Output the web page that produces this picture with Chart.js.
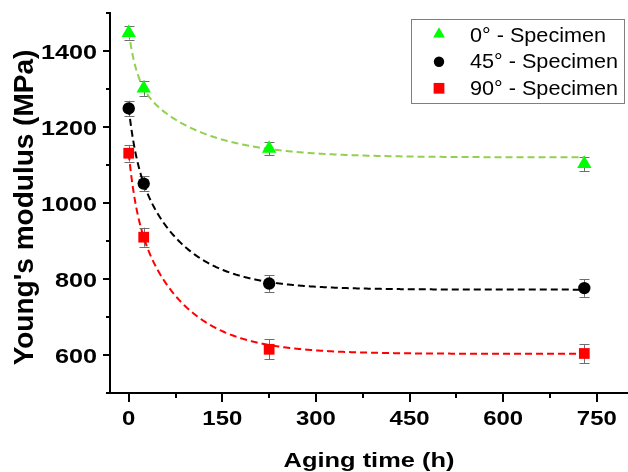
<!DOCTYPE html>
<html>
<head>
<meta charset="utf-8">
<script src="https://cdn.jsdelivr.net/npm/chart.js@4/dist/chart.umd.min.js"></script>
<style>
  html, body { margin: 0; padding: 0; background: #fff; }
  #wrap { width: 628px; height: 472px; }
</style>
</head>
<body>
<div id="wrap"><canvas id="c" width="628" height="472"></canvas></div>
<script>
// Measured Young's modulus (MPa) against aging time (h)
const agingTime = [0, 24, 225, 730];
const modulus0 = [1448, 1302, 1143, 1103];
const modulus45 = [1249, 1051, 788, 776];
const modulus90 = [1131, 910, 615, 604];
// standard deviations
const err0 = [18, 20, 17, 19];
const err45 = [20, 20, 22, 23];
const err90 = [22, 25, 26, 25];
const seriesNames = ['0° - Specimen', '45° - Specimen', '90° - Specimen'];
const xTickLabels = [0, 150, 300, 450, 600, 750];
const xMinorTicks = [75, 225, 375, 525, 675];
const yTickLabels = [600, 800, 1000, 1200, 1400];
const yMinorTicks = [500, 700, 900, 1100, 1300, 1500];
// decay fits: y0 + A1*exp(-t/t1) + A2*exp(-t/t2)  -> [y0, A1, t1, A2, t2]
const fit0 = [1120, 122, 12, 210, 100];
const fit45 = [772, 120, 12, 358, 78];
const fit90 = [603, 139, 12, 389, 80];

const GREEN = '#00ff00', BLACK = '#000000', RED = '#ff0000';
const FIT_GREEN = '#92d050';

const points = (ys) => agingTime.map((t, i) => ({ x: t, y: ys[i] }));
function fitCurve(p) {
  const out = [];
  for (let t = 0; t <= 730; t += 1) {
    out.push({ x: t, y: p[0] + p[1] * Math.exp(-t / p[2]) + p[3] * Math.exp(-t / p[4]) });
  }
  return out;
}

const markerSets = [
  { label: seriesNames[0], data: points(modulus0), errors: err0, pointStyle: 'triangle', pointRadius: 8.3, color: GREEN },
  { label: seriesNames[1], data: points(modulus45), errors: err45, pointStyle: 'circle', pointRadius: 6.2, color: BLACK },
  { label: seriesNames[2], data: points(modulus90), errors: err90, pointStyle: 'rect', pointRadius: 7.6, color: RED }
].map(d => ({
  label: d.label, data: d.data, errors: d.errors,
  pointStyle: d.pointStyle, pointRadius: d.pointRadius, pointHoverRadius: d.pointRadius,
  backgroundColor: d.color, borderColor: d.color, pointBorderWidth: 0, showLine: false
}));

const fitSets = [[fit0, FIT_GREEN], [fit45, BLACK], [fit90, RED]].map(([p, c]) => ({
  label: '', data: fitCurve(p), showLine: true, borderColor: c, borderWidth: 2,
  borderDash: [7, 4], pointRadius: 0, pointHoverRadius: 0, fill: false, tension: 0
}));

function stretched(ctx, str, x, y, sx, align) {
  ctx.save();
  ctx.translate(x, y);
  ctx.scale(sx, 1);
  ctx.textAlign = align;
  ctx.textBaseline = 'alphabetic';
  ctx.fillText(str, 0, 0);
  ctx.restore();
}

function drawMarker(ctx, style, x, y, r) {
  ctx.beginPath();
  if (style === 'triangle') {
    ctx.moveTo(x, y - r);
    ctx.lineTo(x + r * Math.sqrt(3) / 2, y + r / 2);
    ctx.lineTo(x - r * Math.sqrt(3) / 2, y + r / 2);
    ctx.closePath();
  } else if (style === 'circle') {
    ctx.arc(x, y, r, 0, Math.PI * 2);
  } else {
    const s = r * Math.SQRT1_2;
    ctx.rect(x - s, y - s, 2 * s, 2 * s);
  }
  ctx.fill();
}

const errorBars = {
  id: 'errorBars',
  beforeDatasetsDraw(chart) {
    const { ctx, scales: { x, y } } = chart;
    ctx.save();
    ctx.strokeStyle = '#6e6e6e';
    ctx.lineWidth = 1;
    chart.data.datasets.forEach(ds => {
      if (!ds.errors) return;
      ds.data.forEach((p, i) => {
        const px = Math.round(x.getPixelForValue(p.x)) + 0.5;
        const top = y.getPixelForValue(p.y + ds.errors[i]);
        const bot = y.getPixelForValue(p.y - ds.errors[i]);
        ctx.beginPath();
        ctx.moveTo(px, top); ctx.lineTo(px, bot);
        ctx.moveTo(px - 5, Math.round(top) + 0.5); ctx.lineTo(px + 5, Math.round(top) + 0.5);
        ctx.moveTo(px - 5, Math.round(bot) + 0.5); ctx.lineTo(px + 5, Math.round(bot) + 0.5);
        ctx.stroke();
      });
    });
    ctx.restore();
  }
};

const axisDecor = {
  id: 'axisDecor',
  afterDraw(chart) {
    const { ctx, chartArea: a, scales: { x, y } } = chart;
    ctx.save();
    ctx.strokeStyle = '#000';
    ctx.lineWidth = 2;
    ctx.beginPath();
    // x ticks (outward, below the axis)
    xTickLabels.forEach(v => { const px = Math.round(x.getPixelForValue(v)); ctx.moveTo(px, a.bottom); ctx.lineTo(px, a.bottom + 9); });
    xMinorTicks.forEach(v => { const px = Math.round(x.getPixelForValue(v)); ctx.moveTo(px, a.bottom); ctx.lineTo(px, a.bottom + 5); });
    // y ticks (outward, left of the axis)
    yTickLabels.forEach(v => { const py = Math.round(y.getPixelForValue(v)); ctx.moveTo(a.left, py); ctx.lineTo(a.left - 7, py); });
    yMinorTicks.forEach(v => { const py = Math.round(y.getPixelForValue(v)); ctx.moveTo(a.left, py); ctx.lineTo(a.left - 4, py); });
    ctx.stroke();

    ctx.fillStyle = '#000';
    ctx.font = 'bold 21px "Liberation Sans", Arial, sans-serif';
    xTickLabels.forEach(v => stretched(ctx, String(v), x.getPixelForValue(v), a.bottom + 32, 1.14, 'center'));
    yTickLabels.forEach(v => stretched(ctx, String(v), a.left - 13, y.getPixelForValue(v) + 8, 1.2, 'right'));

    // axis titles
    stretched(ctx, 'Aging time (h)', (a.left + a.right) / 2, 467, 1.21, 'center');
    ctx.save();
    ctx.font = 'bold 28px "Liberation Sans", Arial, sans-serif';
    ctx.translate(33, 207.5);
    ctx.rotate(-Math.PI / 2);
    ctx.textAlign = 'center';
    ctx.textBaseline = 'alphabetic';
    ctx.fillText("Young's modulus (MPa)", 0, 0);
    ctx.restore();

    // legend box
    ctx.fillStyle = '#fff';
    ctx.fillRect(411, 19, 214, 85);
    ctx.strokeStyle = '#7f7f7f';
    ctx.lineWidth = 1;
    ctx.strokeRect(411.5, 19.5, 213, 84);
    const rows = [
      { style: 'triangle', r: 6.8, color: GREEN, my: 34, ty: 41.7 },
      { style: 'circle', r: 5.2, color: BLACK, my: 61.7, ty: 68.4 },
      { style: 'rect', r: 7.6, color: RED, my: 88.3, ty: 95 }
    ];
    ctx.font = '21px "Liberation Sans", Arial, sans-serif';
    rows.forEach((row, i) => {
      ctx.fillStyle = row.color;
      drawMarker(ctx, row.style, 439, row.my, row.r);
      ctx.fillStyle = '#000';
      stretched(ctx, seriesNames[i], 470, row.ty, 1.03, 'left');
    });
    ctx.restore();
  }
};

new Chart(document.getElementById('c'), {
  type: 'scatter',
  data: { datasets: [...markerSets, ...fitSets] },
  options: {
    responsive: false,
    animation: false,
    devicePixelRatio: 1,
    layout: { autoPadding: false, padding: { top: 13, right: 0, bottom: 0, left: 0 } },
    plugins: { legend: { display: false }, tooltip: { enabled: false } },
    scales: {
      x: {
        type: 'linear', min: -30, max: 800,
        afterFit: s => { s.height = 79; },
        ticks: { display: false, stepSize: 150 },
        grid: { display: true, drawOnChartArea: false, drawTicks: false },
        border: { display: true, color: '#000', width: 2 }
      },
      y: {
        type: 'linear', min: 500, max: 1500,
        afterFit: s => { s.width = 110; },
        ticks: { display: false, stepSize: 200 },
        grid: { display: true, drawOnChartArea: false, drawTicks: false },
        border: { display: true, color: '#000', width: 2 }
      }
    }
  },
  plugins: [errorBars, axisDecor]
});
</script>
</body>
</html>
